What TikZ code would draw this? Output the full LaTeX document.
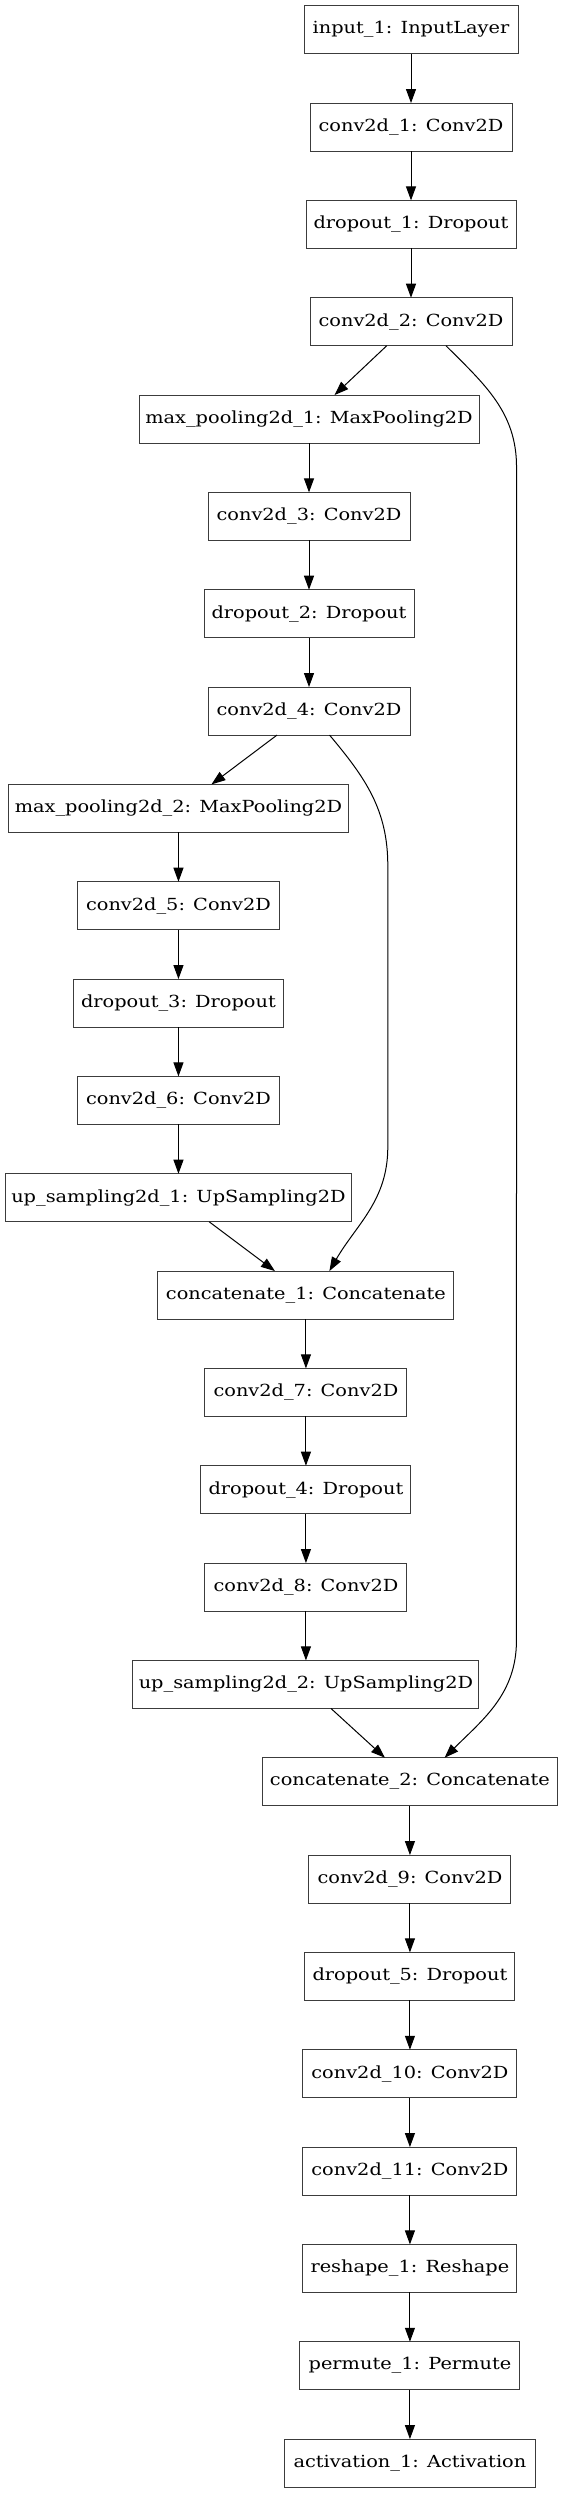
\documentclass[tikz,border=0pt]{standalone}
\usepackage{fontspec}
\setmainfont{DejaVu Serif}[FakeStretch=1.16]
\usetikzlibrary{arrows.meta}
\usetikzlibrary{positioning}
\usepackage{xcolor}
\definecolor{boxgray}{RGB}{60,60,60}

\begin{document}
\begin{tikzpicture}

		\tikzstyle{layer} = [rectangle, draw=boxgray, line width=0.75pt, minimum height=36pt, inner sep=0pt, outer sep=0pt, font=\fontsize{12.5}{14}\selectfont]
		\tikzstyle{line} = [draw, line width=0.75pt, -{Triangle[length=10.5pt,width=7.5pt]}]

		\useasboundingbox (0,0) rectangle (421.5pt,-1869.75pt);

		% first block
		\node [layer,minimum width=160.5pt] (input1) at (308.25pt,-22.3pt) {input\_1: InputLayer};
		\node [layer,minimum width=151.5pt,below=37pt of input1] (conv1) {conv2d\_1: Conv2D};
		\node [layer,minimum width=157.5pt,below=37pt of conv1] (drop1) {dropout\_1: Dropout};
		\node [layer,minimum width=151.5pt,below=37pt of drop1] (conv2) {conv2d\_2: Conv2D};

		% second block
		\node [layer,minimum width=255pt,below=37pt of conv2,xshift=-76.5pt] (pool1) {max\_pooling2d\_1: MaxPooling2D};
		\node [layer,minimum width=151.5pt,below=37pt of pool1] (conv3) {conv2d\_3: Conv2D};
		\node [layer,minimum width=157.5pt,below=37pt of conv3] (drop2) {dropout\_2: Dropout};
		\node [layer,minimum width=151.5pt,below=37pt of drop2] (conv4) {conv2d\_4: Conv2D};

		% third block
		\node [layer,minimum width=255pt,below=37pt of conv4,xshift=-97.9pt] (pool2) {max\_pooling2d\_2: MaxPooling2D};
		\node [layer,minimum width=151.5pt,below=37pt of pool2] (conv5) {conv2d\_5: Conv2D};
		\node [layer,minimum width=157.5pt,below=37pt of conv5] (drop3) {dropout\_3: Dropout};
		\node [layer,minimum width=151.5pt,below=37pt of drop3] (conv6) {conv2d\_6: Conv2D};
		\node [layer,minimum width=259.5pt,below=37pt of conv6] (up1) {up\_sampling2d\_1: UpSampling2D};

		% back to second
		\node [layer,minimum width=222pt,below=37pt of up1,xshift=95.6pt] (cat1) {concatenate\_1: Concatenate};
		\node [layer,minimum width=151.5pt,below=37pt of cat1] (conv7) {conv2d\_7: Conv2D};
		\node [layer,minimum width=157.5pt,below=37pt of conv7] (drop4) {dropout\_4: Dropout};
		\node [layer,minimum width=151.5pt,below=37pt of drop4] (conv8) {conv2d\_8: Conv2D};
		\node [layer,minimum width=259.5pt,below=37pt of conv8] (up2) {up\_sampling2d\_2: UpSampling2D};

		% back to first
		\node [layer,minimum width=221.25pt,below=37pt of up2,xshift=78pt] (cat2) {concatenate\_2: Concatenate};
		\node [layer,minimum width=151.5pt,below=37pt of cat2] (conv9) {conv2d\_9: Conv2D};
		\node [layer,minimum width=157.5pt,below=37pt of conv9] (drop5) {dropout\_5: Dropout};
		\node [layer,minimum width=160.5pt,below=37pt of drop5] (conv10) {conv2d\_10: Conv2D};
		\node [layer,minimum width=160.5pt,below=37pt of conv10] (conv11) {conv2d\_11: Conv2D};
		\node [layer,minimum width=160.5pt,below=37pt of conv11] (resh1) {reshape\_1: Reshape};
		\node [layer,minimum width=165pt,below=37pt of resh1] (perm1) {permute\_1: Permute};
		\node [layer,minimum width=188.25pt,below=37pt of perm1] (act1) {activation\_1: Activation};

		% Arrows
		\path [line] (input1) -- (conv1);
		\path [line] (conv1) -- (drop1);
		\path [line] (drop1) -- (conv2);
		\path [line] ([xshift=-18.2pt]conv2.south) -- ([xshift=19.1pt]pool1.north);
		\path [line] (pool1) -- (conv3);
		\path [line] (conv3) -- (drop2);
		\path [line] (drop2) -- (conv4);
		\path [line] ([xshift=-24pt]conv4.south) -- ([xshift=24.75pt]pool2.north);
		\path [line] (pool2) -- (conv5);
		\path [line] (conv5) -- (drop3);
		\path [line] (drop3) -- (conv6);
		\path [line] (conv6) -- (up1);
		\path [line] ([xshift=23pt]up1.south) -- ([xshift=-23.25pt]cat1.north);
		\path [line] (cat1) -- (conv7);
		\path [line] (conv7) -- (drop4);
		\path [line] (drop4) -- (conv8);
		\path [line] (conv8) -- (up2);
		\path [line] ([xshift=18.75pt]up2.south) -- ([xshift=-18.75pt]cat2.north);
		\path [line] (cat2) -- (conv9);
		\path [line] (conv9) -- (drop5);
		\path [line] (drop5) -- (conv10);
		\path [line] (conv10) -- (conv11);
		\path [line] (conv11) -- (resh1);
		\path [line] (resh1) -- (perm1);
		\path [line] (perm1) -- (act1);

		% skip connections
		\path [line] ([xshift=26.25pt]conv2.south) to[out=-45,in=90] ++(52.9pt,-91pt) -- ([xshift=79.9pt,yshift=88pt]cat2.north) to[out=-90,in=45] ([xshift=26pt]cat2.north);
		\path [line] ([xshift=15.4pt]conv4.south) to[out=-50,in=90] ++(43.7pt,-98pt) -- ([xshift=61.4pt,yshift=93pt]cat1.north) to[out=-90,in=60] ([xshift=17.6pt]cat1.north);

	\end{tikzpicture}
\end{document}
